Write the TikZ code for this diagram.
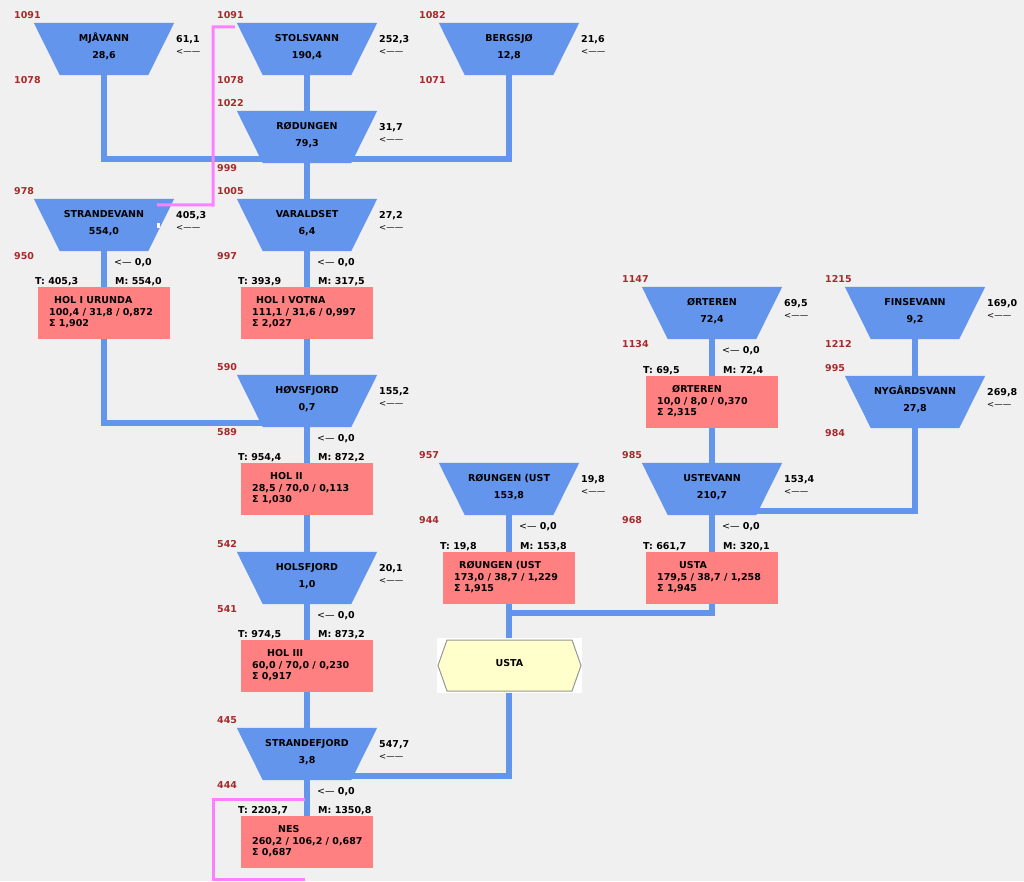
\documentclass[tikz,border=0pt]{standalone}
\usepackage{fontspec}
\setmainfont{DejaVu Sans}
\usetikzlibrary{calc}
\pgfdeclarelayer{back}
\pgfdeclarelayer{bg}
\pgfsetlayers{back,bg,main}
\definecolor{resblue}{RGB}{100,149,237}
\definecolor{plantred}{RGB}{255,128,128}
\definecolor{hred}{RGB}{165,42,42}
\definecolor{pinkline}{RGB}{255,128,255}
\definecolor{hexfill}{RGB}{255,255,204}
\definecolor{hexline}{RGB}{150,150,150}
\definecolor{bggray}{RGB}{240,240,240}
\tikzset{
 txt/.style={inner sep=0pt, text height=7pt, text depth=0pt, font=\fontsize{9.5}{11}\selectfont\bfseries},
 restxt/.style={txt},
 hlabel/.style={txt, text=hred, anchor=west},
 ltxt/.style={txt, anchor=west},
 resbox/.style={minimum width=140pt, minimum height=52pt, inner sep=0pt},
 resfill/.style={fill=resblue},
 plantbox/.style={fill=plantred, minimum width=132pt, minimum height=52pt, inner sep=0pt},
 hexbox/.style={minimum width=144pt, minimum height=52pt, inner sep=0pt},
 hexshape/.style={fill=hexfill, draw=hexline, line width=1pt},
 conn/.style={draw=resblue, line width=5.5pt},
 pinkconn/.style={draw=pinkline, line width=3pt},
 arrowtxt/.style={inner sep=0pt, anchor=west, text height=5pt, text depth=0pt, font=\fontsize{8.5}{10}\selectfont},
}
% reservoir: id, left x, top y, name, value, inflow, top level, bottom level
\newcommand\resv[8]{%
  \node[resbox] (#1) at (#2+70,#3+26) {};
  \fill[resfill] (#1.north west) -- (#1.north east) -- ($(#1.south east)+(-26,0)$) -- ($(#1.south west)+(26,0)$) -- cycle;
  \node[restxt] (#1-n) at (#2+70,#3+15) {#4};
  \node[restxt] (#1-v) at (#2+70,#3+32) {#5};
  \node[ltxt] (#1-i) at (#2+142,#3+16) {#6};
  \node[arrowtxt] (#1-a) at (#2+142,#3+28.5) {<——};
  \node[hlabel] (#1-h1) at (#2-20,#3-8) {#7};
  \node[hlabel] (#1-h2) at (#2-20,#3+57) {#8};
}
% zero label below reservoir: id, center x, top y
\newcommand\zerolbl[3]{%
  \node[ltxt] (#1-z) at (#2+10,#3+63) {{\mdseries <—} 0,0};
}
% plant: id, center x, top y, title, title offset, line2, sum, T, M
\newcommand\plantnode[9]{%
  \node[plantbox] (#1) at (#2,#3+26) {};
  \node[ltxt] (#1-t) at (#2-66+#5,#3+13) {#4};
  \node[ltxt] (#1-l2) at (#2-55,#3+24.5) {#6};
  \node[ltxt] (#1-l3) at (#2-55,#3+36) {Σ #7};
  \node[ltxt] (#1-T) at (#2-69,#3-6) {T: #8};
  \node[ltxt] (#1-M) at (#2+11,#3-6) {M: #9};
}
\begin{document}
\begin{tikzpicture}[x=1pt,y=-1pt]
\useasboundingbox (0,0) rectangle (1024,881);
\begin{pgfonlayer}{back}
\fill[bggray] (0,0) rectangle (1024,881);
\end{pgfonlayer}

% reservoirs
\resv{MJA}{34}{23}{MJÅVANN}{28,6}{61,1}{1091}{1078}
\resv{STOL}{237}{23}{STOLSVANN}{190,4}{252,3}{1091}{1078}
\resv{BERG}{439}{23}{BERGSJØ}{12,8}{21,6}{1082}{1071}
\resv{ROD}{237}{111}{RØDUNGEN}{79,3}{31,7}{1022}{999}
\resv{STRV}{34}{199}{STRANDEVANN}{554,0}{405,3}{978}{950}
\resv{VAR}{237}{199}{VARALDSET}{6,4}{27,2}{1005}{997}
\resv{HOV}{237}{375}{HØVSFJORD}{0,7}{155,2}{590}{589}
\resv{HOLS}{237}{552}{HOLSFJORD}{1,0}{20,1}{542}{541}
\resv{STRF}{237}{728}{STRANDEFJORD}{3,8}{547,7}{445}{444}
\resv{ROUN}{439}{463}{RØUNGEN (UST}{153,8}{19,8}{957}{944}
\resv{ORT}{642}{287}{ØRTEREN}{72,4}{69,5}{1147}{1134}
\resv{FIN}{845}{287}{FINSEVANN}{9,2}{169,0}{1215}{1212}
\resv{NYG}{845}{376}{NYGÅRDSVANN}{27,8}{269,8}{995}{984}
\resv{USTV}{642}{463}{USTEVANN}{210,7}{153,4}{985}{968}

\zerolbl{STRV}{104}{199}
\zerolbl{VAR}{307}{199}
\zerolbl{HOV}{307}{375}
\zerolbl{HOLS}{307}{552}
\zerolbl{STRF}{307}{728}
\zerolbl{ROUN}{509}{463}
\zerolbl{ORT}{712}{287}
\zerolbl{USTV}{712}{463}

% plants
\plantnode{URUNDA}{104}{287}{HOL I URUNDA}{16}{100,4 / 31,8 / 0,872}{1,902}{405,3}{554,0}
\plantnode{VOTNA}{307}{287}{HOL I VOTNA}{15}{111,1 / 31,6 / 0,997}{2,027}{393,9}{317,5}
\plantnode{HOLII}{307}{463}{HOL II}{29}{28,5 / 70,0 / 0,113}{1,030}{954,4}{872,2}
\plantnode{HOLIII}{307}{640}{HOL III}{26}{60,0 / 70,0 / 0,230}{0,917}{974,5}{873,2}
\plantnode{NES}{307}{816}{NES}{37}{260,2 / 106,2 / 0,687}{0,687}{2203,7}{1350,8}
\plantnode{ROUNp}{509}{552}{RØUNGEN (UST}{16}{173,0 / 38,7 / 1,229}{1,915}{19,8}{153,8}
\plantnode{ORTp}{712}{376}{ØRTEREN}{26}{10,0 / 8,0 / 0,370}{2,315}{69,5}{72,4}
\plantnode{USTAp}{712}{552}{USTA}{33}{179,5 / 38,7 / 1,258}{1,945}{661,7}{320,1}

% market hexagon
\node[hexbox] (HEX) at (509,665.5) {};
\fill[white] (437,638) rectangle (582,693);
\path[hexshape] (438,665.5) -- (447,640) -- (572,640) -- (581,665.5) -- (572,691) -- (447,691) -- cycle;
\node[restxt] (HEX-t) at (509.5,663) {USTA};

% small white mark
\fill[white] (157,223) rectangle (160,228);

% waterways
\coordinate (J) at (ROUNp.south |- 0,613);
\begin{pgfonlayer}{bg}
\draw[conn] (MJA.south) |- ($(ROD.center)+(0,22)$);
\draw[conn] (BERG.south) |- ($(ROD.center)+(0,22)$);
\draw[conn] (STOL) -- (ROD);
\draw[conn] (ROD) -- (VAR);
\draw[conn] (VAR) -- (VOTNA);
\draw[conn] (VOTNA) -- (HOV);
\draw[conn] (STRV) -- (URUNDA);
\draw[conn] (URUNDA.south) |- ($(HOV.center)+(0,22)$);
\draw[conn] (HOV) -- (HOLII);
\draw[conn] (HOLII) -- (HOLS);
\draw[conn] (HOLS) -- (HOLIII);
\draw[conn] (HOLIII) -- (STRF);
\draw[conn] (STRF) -- (NES);
\draw[conn] (ROUN) -- (ROUNp);
\draw[conn] (ROUNp.south) -- (HEX.north);
\draw[conn] (USTAp.south) |- (J);
\draw[conn] (HEX.south) |- ($(STRF.center)+(0,22)$);
\draw[conn] (ORT) -- (ORTp);
\draw[conn] (ORTp) -- (USTV);
\draw[conn] (USTV) -- (USTAp);
\draw[conn] (FIN) -- (NYG);
\draw[conn] (NYG.south) |- ($(USTV.center)+(0,22)$);
\end{pgfonlayer}

% pink lines
\coordinate (pA) at ($(STOL.north west)+(-2,4)$);
\coordinate (pC) at (213,205);
\coordinate (pB) at ($(STRV.north east)+(-17,6)$);
\draw[pinkconn] (pA) -| (pC) -- (pB);
\coordinate (pD) at (305,799);
\coordinate (pE) at (213,799);
\coordinate (pF) at (213,879.5);
\coordinate (pG) at (305,879.5);
\draw[pinkconn] (pD) -- (pE) -- (pF) -- (pG);
\end{tikzpicture}
\end{document}
